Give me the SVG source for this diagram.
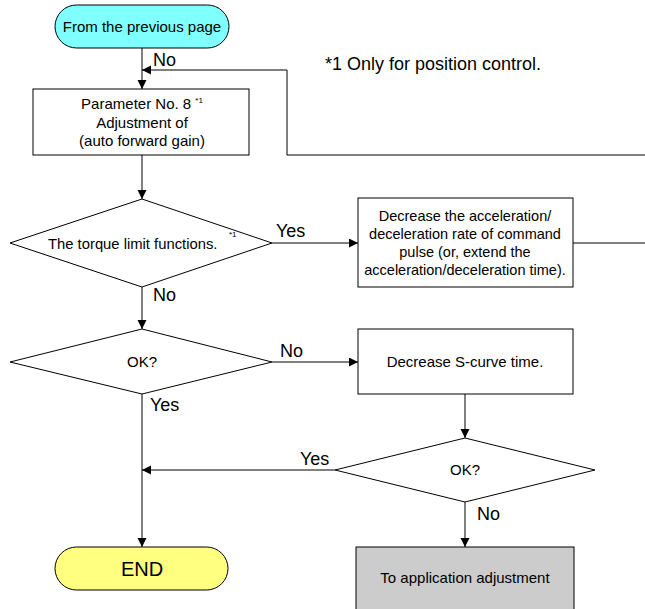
<svg xmlns="http://www.w3.org/2000/svg" width="645" height="609" viewBox="0 0 645 609">
<defs>
<marker id="arr" markerWidth="10" markerHeight="10" refX="9" refY="4.5" orient="auto" markerUnits="userSpaceOnUse">
<path d="M0,0 L9,4.5 L0,9 Z" fill="#000"/>
</marker>
<style>
text{font-family:"Liberation Sans",Arial,sans-serif;fill:#000}
.t{font-size:15px;text-anchor:middle}
.s{font-size:14.5px;text-anchor:middle}
.l{font-size:18px}
.sup{font-size:8px}
.shape{stroke:#000;stroke-width:1;fill:#fff}
.c{stroke:#000;stroke-width:1;fill:none}
</style>
</defs>
<rect width="645" height="609" fill="#fff"/>
<g id="start">
<rect x="55" y="5" width="174" height="43" rx="21.5" class="shape" style="fill:#80FFFF"/>
<text x="142" y="32" class="t">From the previous page</text>
</g>
<g id="param8">
<rect x="33" y="89" width="216" height="66" class="shape"/>
<text x="142" y="109" class="t">Parameter No. 8 <tspan class="sup" dy="-6">*1</tspan></text>
<text x="142" y="128" class="t">Adjustment of</text>
<text x="142" y="146" class="t">(auto forward gain)</text>
</g>
<g id="note">
<text x="325" y="70" class="l">*1 Only for position control.</text>
</g>
<g id="torque">
<polygon points="10,243 142,199 272,243 142,287" class="shape"/>
<text x="48" y="248.5" style="font-size:14.8px">The torque limit functions.</text>
<text x="229" y="237" class="sup">*1</text>
</g>
<g id="decaccel">
<rect x="358" y="198" width="215" height="89" class="shape"/>
<text x="465" y="221" class="s">Decrease the acceleration/</text>
<text x="465" y="239" class="s">deceleration rate of command</text>
<text x="465" y="257" class="s">pulse (or, extend the</text>
<text x="465" y="275" class="s">acceleration/deceleration time).</text>
</g>
<g id="ok1">
<polygon points="10,362 142,329 272,362 142,394" class="shape"/>
<text x="142" y="367" class="t">OK?</text>
</g>
<g id="scurve">
<rect x="358" y="329" width="215" height="65" class="shape"/>
<text x="465" y="367" class="t">Decrease S-curve time.</text>
</g>
<g id="ok2">
<polygon points="335,470 465,438 595,470 465,502" class="shape"/>
<text x="465" y="475" class="t">OK?</text>
</g>
<g id="end">
<rect x="55" y="547" width="173" height="43" rx="21.5" class="shape" style="fill:#FFFF80"/>
<text x="142" y="576" style="font-size:20px;text-anchor:middle">END</text>
</g>
<g id="appadj">
<rect x="356" y="547" width="218" height="70" class="shape" style="fill:#CCCCCC"/>
<text x="465" y="583" class="t">To application adjustment</text>
</g>
<g id="connectors">
<line x1="142" y1="48" x2="142" y2="89" class="c" marker-end="url(#arr)"/>
<polyline points="645,155 287,155 287,70 142,70" class="c" marker-end="url(#arr)"/>
<line x1="142" y1="155" x2="142" y2="199" class="c" marker-end="url(#arr)"/>
<line x1="272" y1="243" x2="358" y2="243" class="c" marker-end="url(#arr)"/>
<line x1="573" y1="243" x2="645" y2="243" class="c"/>
<line x1="142" y1="287" x2="142" y2="329" class="c" marker-end="url(#arr)"/>
<line x1="272" y1="362" x2="358" y2="362" class="c" marker-end="url(#arr)"/>
<line x1="465" y1="394" x2="465" y2="438" class="c" marker-end="url(#arr)"/>
<line x1="335" y1="470" x2="142" y2="470" class="c" marker-end="url(#arr)"/>
<line x1="142" y1="394" x2="142" y2="547" class="c" marker-end="url(#arr)"/>
<line x1="465" y1="502" x2="465" y2="547" class="c" marker-end="url(#arr)"/>
<text x="153" y="66" class="l">No</text>
<text x="276" y="237" class="l">Yes</text>
<text x="153" y="301" class="l">No</text>
<text x="280" y="357" class="l">No</text>
<text x="150" y="411" class="l">Yes</text>
<text x="300" y="465" class="l">Yes</text>
<text x="477" y="520" class="l">No</text>
</g>
</svg>
